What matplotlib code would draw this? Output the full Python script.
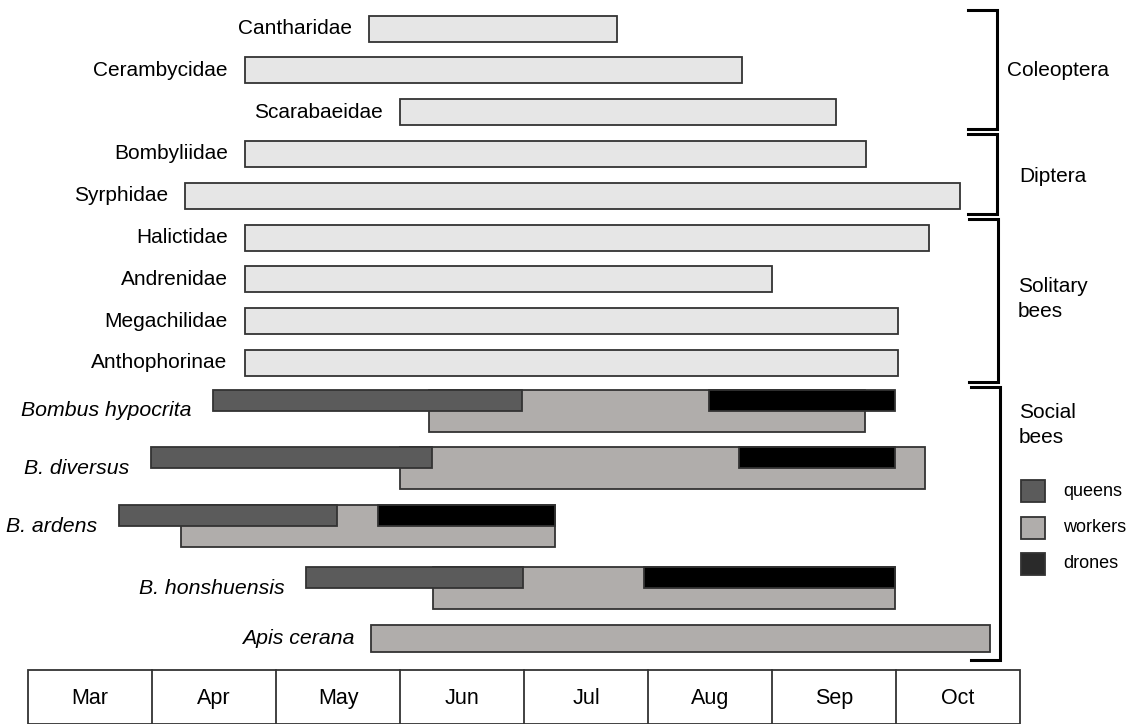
import matplotlib
matplotlib.use("Agg")
import matplotlib.pyplot as plt
from matplotlib.patches import Rectangle

plt.rcParams["font.family"] = ["Liberation Sans", "DejaVu Sans"]

# -----------------------------
# Data (months counted from 1 March, Mar = 0 ... Oct = 7)
# -----------------------------
months = ["Mar", "Apr", "May", "Jun", "Jul", "Aug", "Sep", "Oct"]

families = ["Cantharidae", "Cerambycidae", "Scarabaeidae", "Bombyliidae", "Syrphidae",
            "Halictidae", "Andrenidae", "Megachilidae", "Anthophorinae"]
family_start = [2.75, 1.75, 3.0, 1.75, 1.27, 1.75, 1.75, 1.75, 1.75]
family_end = [4.75, 5.76, 6.52, 6.76, 7.52, 7.27, 6.0, 7.02, 7.02]

groups = ["Coleoptera", "Diptera", "Solitary\nbees", "Social\nbees"]

bumblebees = ["Bombus hypocrita", "B. diversus", "B. ardens", "B. honshuensis"]
queen_start = [1.49, 0.99, 0.73, 2.24]
queen_end = [3.98, 3.26, 2.49, 3.99]
worker_start = [3.23, 3.0, 1.23, 3.27]
worker_end = [6.75, 7.23, 4.25, 6.99]
drone_start = [5.49, 5.73, 2.82, 4.97]
drone_end = [6.99, 6.99, 4.25, 6.99]

apis_name = "Apis cerana"
apis_start = 2.77
apis_end = 7.76

caste_labels = ["queens", "workers", "drones"]

# -----------------------------
# Style
# -----------------------------
c_light = "#e6e6e6"
c_queen = "#5b5b5b"
c_worker = "#b0adab"
c_drone = "#000000"
c_drone_key = "#2a2a2a"
edge = "#333333"
fs = 15

# layout (y in pixels from top of the figure)
px = 124.0  # pixels per month
x0 = 28.0   # pixel of 1 March
fam_y0, fam_dy, fam_h = 28.5, 41.8, 26
bee_y = [411, 468, 526, 588]   # centre line between caste rows
row_h = 21
apis_y, apis_h = 638, 27
gap = 0.14  # label gap in months

fig = plt.figure(figsize=(11.39, 7.24), dpi=100)
ax = fig.add_axes([0, 0, 1, 1])
ax.set_xlim(-x0 / px, (1139 - x0) / px)
ax.set_ylim(724, 0)
ax.axis("off")

# -----------------------------
# Family bars
# -----------------------------
for i, (name, s, e) in enumerate(zip(families, family_start, family_end)):
    yc = fam_y0 + fam_dy * i
    ax.add_patch(Rectangle((s, yc - fam_h / 2), e - s, fam_h,
                           facecolor=c_light, edgecolor=edge, lw=1.3))
    ax.text(s - gap, yc, name, ha="right", va="center", fontsize=fs)

# -----------------------------
# Bumblebee castes
# -----------------------------
for i, name in enumerate(bumblebees):
    yc = bee_y[i]
    ax.add_patch(Rectangle((worker_start[i], yc - row_h), worker_end[i] - worker_start[i],
                           2 * row_h, facecolor=c_worker, edgecolor=edge, lw=1.3))
    ax.add_patch(Rectangle((queen_start[i], yc - row_h), queen_end[i] - queen_start[i],
                           row_h, facecolor=c_queen, edgecolor=edge, lw=1.3))
    ax.add_patch(Rectangle((drone_start[i], yc - row_h), drone_end[i] - drone_start[i],
                           row_h, facecolor=c_drone, edgecolor=edge, lw=1.3))
    ax.text(queen_start[i] - gap - 0.03, yc, name, ha="right", va="center",
            fontsize=15.3, style="italic")

ax.add_patch(Rectangle((apis_start, apis_y - apis_h / 2), apis_end - apis_start, apis_h,
                       facecolor=c_worker, edgecolor=edge, lw=1.3))
ax.text(apis_start - gap, apis_y, apis_name, ha="right", va="center",
        fontsize=15.3, style="italic")

# -----------------------------
# Group brackets
# -----------------------------
brackets = [(10, 129, 7.815), (134, 214, 7.815), (219, 382, 7.823), (387, 660, 7.839)]
text_y = [70, 176, 299, 425]
text_x = [7.895, 7.99, 7.985, 7.99]
for (top, bot, xb), g, ty, tx in zip(brackets, groups, text_y, text_x):
    ax.plot([xb - 0.235, xb, xb, xb - 0.235], [top, top, bot, bot],
            color="black", lw=2.2, solid_joinstyle="miter")
    ax.text(tx, ty, g, ha="left", va="center", fontsize=fs, linespacing=1.35)

# -----------------------------
# Caste key
# -----------------------------
key_colors = [c_queen, c_worker, c_drone_key]
for k, (lab, col) in enumerate(zip(caste_labels, key_colors)):
    yk = 491 + 36.5 * k
    ax.add_patch(Rectangle((8.01, yk - 11), 0.19, 22, facecolor=col,
                           edgecolor=edge, lw=1.3))
    ax.text(8.35, yk, lab, ha="left", va="center", fontsize=13)

# -----------------------------
# Month table
# -----------------------------
tab_top, tab_bot = 670, 723.5
ax.add_patch(Rectangle((0, tab_top), len(months), tab_bot - tab_top,
                       facecolor="white", edgecolor=edge, lw=1.3))
for m, lab in enumerate(months):
    if m > 0:
        ax.plot([m, m], [tab_top, tab_bot], color=edge, lw=1.3)
    ax.text(m + 0.5, (tab_top + tab_bot) / 2 + 2, lab, ha="center", va="center",
            fontsize=15.5)

fig.savefig("out.png", dpi=100)
